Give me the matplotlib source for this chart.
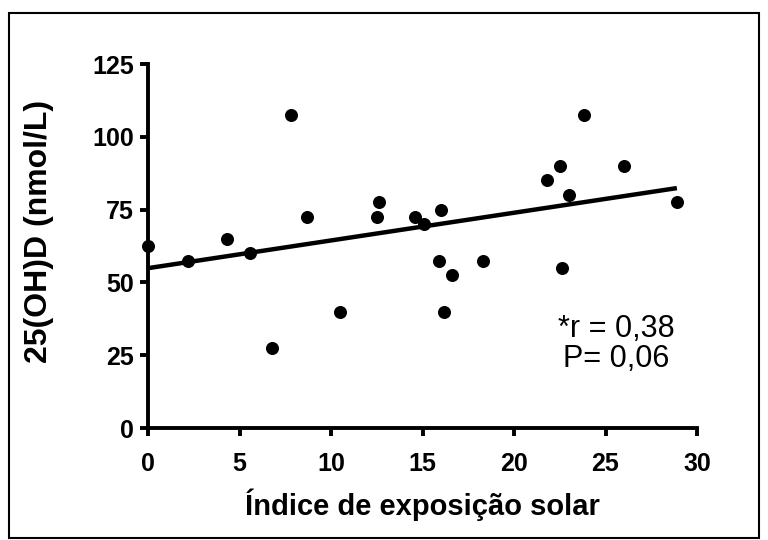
import numpy as np
import matplotlib
matplotlib.use("Agg")
import matplotlib.pyplot as plt
from matplotlib.patches import Rectangle

# Data
sun_index = [0.0, 2.2, 4.3, 5.6, 6.8, 7.8, 8.7, 10.5, 12.5, 12.6, 14.6, 15.1,
             15.9, 16.0, 16.2, 16.6, 18.3, 21.8, 22.5, 22.6, 23.0, 23.8, 26.0, 28.9]
vitd = [62.5, 57.5, 65.0, 60.0, 27.5, 107.5, 72.5, 40.0, 72.5, 77.5, 72.5, 70.0,
        57.5, 75.0, 40.0, 52.5, 57.5, 85.0, 90.0, 55.0, 80.0, 107.5, 90.0, 77.5]
x_ticks = [0, 5, 10, 15, 20, 25, 30]
y_ticks = [0, 25, 50, 75, 100, 125]
annot_lines = ["*r = 0,38", "P= 0,06"]

plt.rcParams['font.family'] = ['Liberation Sans', 'DejaVu Sans']

fig = plt.figure(figsize=(7.68, 5.40), dpi=100)
W, H = 768, 540

# outer frame
fig.patches.append(Rectangle((9 / W, 1 - 538 / H), (759 - 9) / W, (538 - 13) / H,
                             transform=fig.transFigure, fill=False,
                             edgecolor='black', linewidth=1.5))

ax = fig.add_axes([148 / W, 1 - 428 / H, (697 - 148) / W, (428 - 64) / H])

ax.scatter(sun_index, vitd, s=70, color='black', zorder=3, clip_on=False)

slope, intercept = np.polyfit(sun_index, vitd, 1)
xl = np.array([0, max(sun_index)])
ax.plot(xl, intercept + slope * xl, color='black', linewidth=3.2,
        solid_capstyle='butt', zorder=2)

ax.set_xlim(0, 30)
ax.set_ylim(0, 125)
ax.set_xticks(x_ticks)
ax.set_yticks(y_ticks)
for s in ['top', 'right']:
    ax.spines[s].set_visible(False)
for s in ['left', 'bottom']:
    ax.spines[s].set_linewidth(2.8)
ax.tick_params(axis='both', direction='out', length=6, width=2.8, labelsize=18)
ax.tick_params(axis='x', pad=11)
ax.tick_params(axis='y', pad=4)
for lab in ax.get_xticklabels() + ax.get_yticklabels():
    lab.set_fontweight('bold')

ax.set_xlabel("Índice de exposição solar", fontsize=21, fontweight='bold', labelpad=9)
ax.set_ylabel("25(OH)D (nmol/L)", fontsize=23, fontweight='bold')
ax.yaxis.set_label_coords(-0.172, 0.54)

ax.text(25.6, 34.0, annot_lines[0], fontsize=22, ha='center', va='center')
ax.text(25.6, 23.7, annot_lines[1], fontsize=22, ha='center', va='center')

fig.savefig("out.png", dpi=100)
